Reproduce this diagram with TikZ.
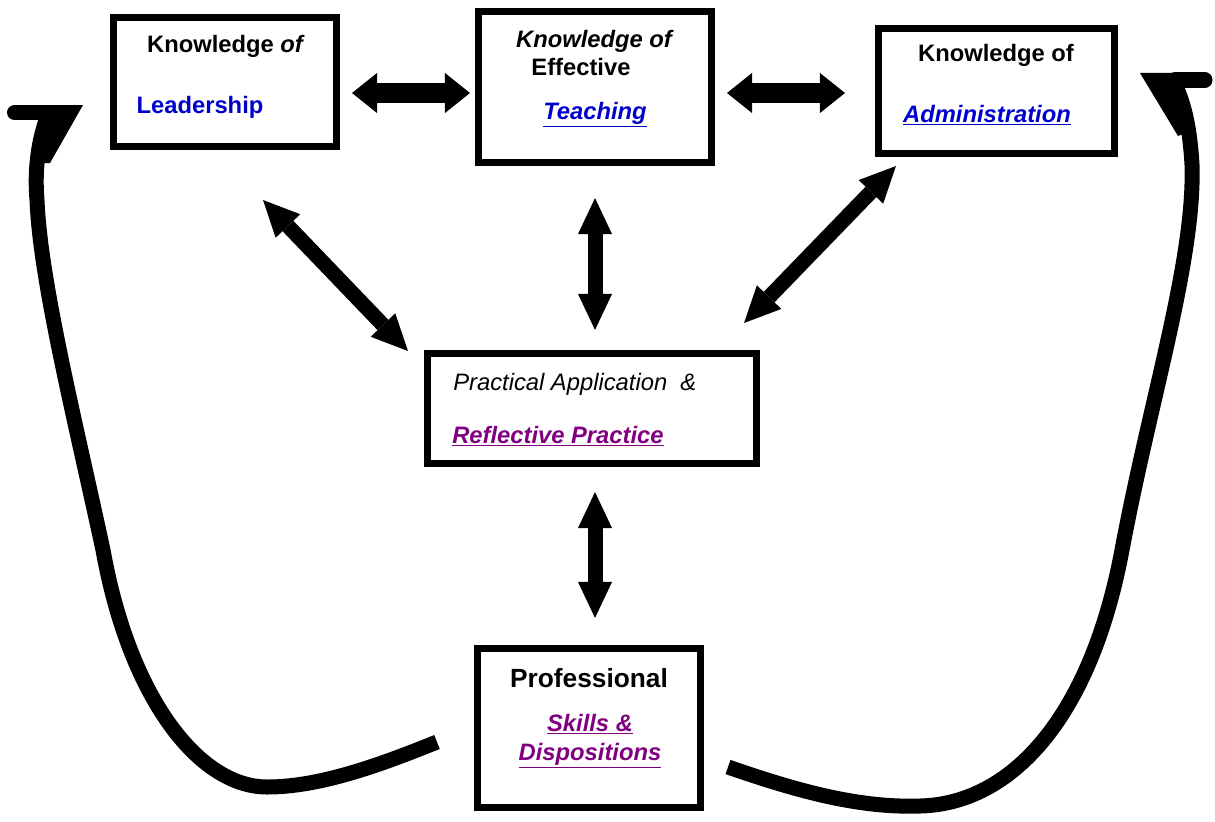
\documentclass[tikz,border=0pt]{standalone}
\usepackage{fontspec}
\setmainfont{Liberation Sans}
\usetikzlibrary{arrows.meta, calc, positioning}
\definecolor{azulEnlace}{RGB}{0,0,204}
\definecolor{moradoEnlace}{RGB}{128,0,128}

\begin{document}
\begin{tikzpicture}[x=0.025cm, y=-0.025cm,
    caja/.style={draw, line width=0.175cm, inner sep=0pt},
    texto/.style={inner sep=0pt, anchor=base, font=\bfseries\fontsize{16.9}{20}\selectfont},
    flechaH/.style={line width=0.5cm,
      {Triangle[length=0.625cm, width=1cm, line width=0pt]}-{Triangle[length=0.625cm, width=1cm, line width=0pt]}},
    flechaD/.style={line width=0.375cm,
      {Triangle[length=0.9cm, width=0.85cm, line width=0pt]}-{Triangle[length=0.9cm, width=0.85cm, line width=0pt]}},
    curva/.style={line width=0.375cm}]
            % Marco de la figura
            \useasboundingbox (0,0) rectangle (1215,821);

            % Cajas
            \node[caja, minimum width=5.575cm, minimum height=3.225cm] (lider) at (225,82) {};
            \node[caja, minimum width=5.825cm, minimum height=3.775cm] (ensenanza) at (595,87) {};
            \node[caja, minimum width=5.9cm, minimum height=3.125cm] (admin) at (996.5,91) {};
            \node[caja, minimum width=8.225cm, minimum height=2.75cm] (practica) at (592,408.5) {};
            \node[caja, minimum width=5.575cm, minimum height=3.975cm] (profesional) at (589,728) {};

            % Textos de las cajas
            \node[texto] (liderA) at (226,53) {Knowledge \textit{of}};
            \node[texto, text=azulEnlace] (liderB) at (200,113) {Leadership};
            \node[texto] (ensenanzaA) at (595,48) {\textit{Knowledge of}};
            \node[texto] (ensenanzaB) at (581,76) {Effective};
            \node[texto] (ensenanzaC) at (595,119) {\color{azulEnlace}\underline{\textit{Teaching}}};
            \node[texto] (adminA) at (996,62) {Knowledge of};
            \node[texto] (adminB) at (987,122) {\color{azulEnlace}\underline{\textit{Administration}}};
            \node[texto, anchor=base west] (practicaA) at (453,390) {\mdseries\itshape Practical Application\ \ \&};
            \node[texto, anchor=base west] (practicaB) at (452,443) {\color{moradoEnlace}\underline{\textit{Reflective Practice}}};
            \node[texto, font=\bfseries\fontsize{18.7}{22}\selectfont] (profesionalA) at (589,687) {Professional};
            \node[texto] (profesionalB) at (590,731) {\color{moradoEnlace}\underline{\textit{Skills \&}}};
            \node[texto] (profesionalC) at (590,760) {\color{moradoEnlace}\underline{\textit{Dispositions}}};

            % Flechas dobles
            \draw[flechaH] ($(lider.east)+(12,11)$) -- ($(ensenanza.west)+(-5,6)$);
            \draw[flechaH] ($(ensenanza.east)+(12,6)$) -- ($(admin.west)+(-30,2)$);
            \draw[flechaD] ($(lider.south)+(38,50)$) -- ($(practica.north west)+(-16,1)$);
            \draw[flechaD] ($(ensenanza.south)+(0,32)$) -- ($(practica.north)+(3,-20)$);
            \draw[flechaD] ($(admin.south west)+(21,9)$) -- ($(practica.north east)+(-16,-27)$);
            \draw[flechaD] ($(practica.south)+(3,25)$) -- ($(profesional.north)+(6,-27)$);

            % Curva izquierda de retorno
            \coordinate (inicioIzq) at ($(profesional.west)+(-37,14)$);
            \draw[curva] (inicioIzq) .. controls (380,765) and (320,787) .. (267,787)
              .. controls (200,787) and (130,700) .. (103,550)
              .. controls (75,420) and (40,280) .. (37,200)
              .. controls (34,165) and (40,135) .. (48,115);
            \draw[curva, line cap=round] (14.5,112.5) -- (50,112.5);
            \fill (40,105) -- (83,105) -- (50,163) -- (34,163) -- cycle;

            % Curva derecha de retorno
            \coordinate (inicioDer) at ($(profesional.east)+(24,39)$);
            \draw[curva] (inicioDer) .. controls (800,792) and (860,808) .. (920,806)
              .. controls (1010,804) and (1090,720) .. (1122,550)
              .. controls (1150,400) and (1195,260) .. (1192,165)
              .. controls (1190,130) and (1185,105) .. (1174,82);
            \draw[curva, line cap=round] (1175,80) -- (1205,80);
            \fill (1140,73) -- (1180,73) -- (1192,130) -- (1178,136) -- cycle;
        \end{tikzpicture}
\end{document}
